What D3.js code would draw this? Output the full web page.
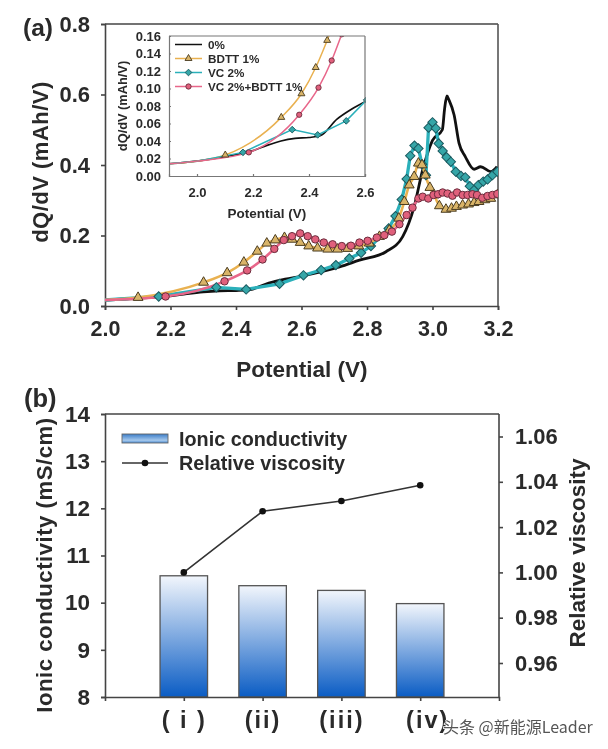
<!DOCTYPE html>
<html><head><meta charset="utf-8">
<script src="https://cdnjs.cloudflare.com/ajax/libs/d3/7.8.5/d3.min.js"></script>
<style>
html,body{margin:0;padding:0;background:#fff}
svg{display:block;filter:blur(0.45px)}
text{font-family:"Liberation Sans",Arial,sans-serif;font-weight:bold;fill:#2a2a2a}
</style></head><body>
<svg id="c" width="608" height="749"></svg>
<script>
// ---- panel (a) data
const leadV=[1.9,2.0];
const blackV=[1.9,2.0,2.1,2.2,2.25,2.3,2.35,2.4,2.44,2.5,2.55,2.6,2.716,2.777,2.858,2.909,2.944,2.97,3.0,3.03,3.037,3.044,3.05,3.066,3.081,3.1,3.127,3.147,3.178,3.197];
const blackY=[0.014,0.017,0.022,0.029,0.035,0.040,0.043,0.044,0.046,0.065,0.076,0.085,0.111,0.13,0.154,0.197,0.282,0.386,0.47,0.50,0.56,0.596,0.585,0.542,0.462,0.424,0.388,0.395,0.381,0.395];
const bdttLead=[0.014,0.017];
const bdttV=[2.101,2.301,2.373,2.424,2.465,2.494,2.520,2.548,2.571,2.596,2.622,2.649,2.680,2.710,2.741,2.775,2.807,2.838,2.868,2.897,2.914,2.929,2.944,2.957,2.968,2.978,2.992,3.005,3.021,3.041,3.058,3.073,3.092,3.110,3.127,3.142,3.160,3.178,3.198];
const bdttY=[0.024,0.067,0.094,0.124,0.155,0.178,0.187,0.194,0.189,0.180,0.170,0.164,0.161,0.161,0.163,0.170,0.178,0.197,0.215,0.249,0.296,0.343,0.367,0.405,0.400,0.371,0.336,0.315,0.284,0.274,0.277,0.282,0.286,0.289,0.293,0.296,0.301,0.305,0.315];
const vcLead=[0.014,0.017];
const vcV=[2.164,2.340,2.431,2.533,2.606,2.660,2.705,2.746,2.782,2.812,2.866,2.887,2.906,2.921,2.932,2.945,2.957,2.968,2.980,2.988,3.000,3.010,3.019,3.031,3.043,3.056,3.071,3.087,3.100,3.114,3.127,3.140,3.155,3.168,3.183,3.198];
const vcY=[0.027,0.053,0.047,0.063,0.087,0.102,0.116,0.135,0.151,0.170,0.220,0.255,0.302,0.360,0.426,0.455,0.447,0.402,0.371,0.506,0.521,0.504,0.461,0.440,0.422,0.409,0.381,0.369,0.365,0.340,0.329,0.343,0.353,0.359,0.371,0.381];
const comboLead=[0.014,0.017];
const comboV=[2.185,2.365,2.434,2.481,2.517,2.546,2.571,2.596,2.619,2.642,2.668,2.695,2.723,2.751,2.777,2.802,2.830,2.853,2.876,2.899,2.921,2.939,2.957,2.970,2.987,3.003,3.017,3.031,3.046,3.061,3.075,3.092,3.107,3.122,3.136,3.152,3.168,3.183,3.198];
const comboY=[0.027,0.070,0.101,0.132,0.162,0.187,0.198,0.206,0.198,0.189,0.180,0.175,0.170,0.171,0.180,0.185,0.194,0.201,0.211,0.232,0.258,0.279,0.305,0.310,0.305,0.315,0.317,0.322,0.319,0.313,0.322,0.315,0.315,0.317,0.315,0.307,0.312,0.315,0.318];
const legendA=["0%","BDTT 1%","VC 2%","VC 2%+BDTT 1%"];
const mainXTicks=[2.0,2.2,2.4,2.6,2.8,3.0,3.2];
const mainYTicks=[0,0.2,0.4,0.6,0.8];
const insetXTicks=[2.0,2.2,2.4,2.6];
const insetYTicks=[0,0.02,0.04,0.06,0.08,0.10,0.12,0.14,0.16];
// ---- panel (b) data
const cats=["( i )","(ii)","(iii)","(iv)"];
const conductivity=[10.57,10.36,10.26,9.98];
const viscosity=[1.000,1.027,1.0315,1.0385];
const leftTicks=[8,9,10,11,12,13,14];
const rightTicks=[0.96,0.98,1.00,1.02,1.04,1.06];

const svg=d3.select("#c");
const defs=svg.append("defs");
const grad=defs.append("linearGradient").attr("id","barG").attr("x1",0).attr("y1",0).attr("x2",0).attr("y2",1);
grad.append("stop").attr("offset","0").attr("stop-color","#f2f6fc");
grad.append("stop").attr("offset","1").attr("stop-color","#0a5cc4");
const lg=defs.append("linearGradient").attr("id","legG").attr("x1",0).attr("y1",0).attr("x2",0).attr("y2",1);
lg.append("stop").attr("offset","0").attr("stop-color","#3a7cc8");
lg.append("stop").attr("offset","0.7").attr("stop-color","#a5c8ec");
lg.append("stop").attr("offset","1").attr("stop-color","#4a8ad0");
function clip(id,x,y,w,h){defs.append("clipPath").attr("id",id).append("rect").attr("x",x).attr("y",y).attr("width",w).attr("height",h);}

const series=[
 {v:blackV,y:blackY,lead:null,line:"#111",fill:null,stroke:null,sym:null,curve:d3.curveMonotoneX},
 {v:bdttV,y:bdttY,lead:bdttLead,line:"#e9b150",fill:"#d9b468",stroke:"#4a3c20",sym:d3.symbolTriangle,curve:d3.curveMonotoneX},
 {v:vcV,y:vcY,lead:vcLead,line:"#2bb0ba",fill:"#35a6a8",stroke:"#1a5a60",sym:d3.symbolSquare,curve:d3.curveLinear},
 {v:comboV,y:comboY,lead:comboLead,line:"#e8668a",fill:"#e0607c",stroke:"#6a2c3c",sym:d3.symbolCircle,curve:d3.curveMonotoneX}
];
function pts(s){
  const a=s.v.map((v,i)=>[v,s.y[i]]);
  return s.lead?leadV.map((v,i)=>[v,s.lead[i]]).concat(a):a;
}
function symPath(s,a){
  return d3.symbol().type(s.sym).size(s.sym===d3.symbolTriangle?a*0.95:a)();
}
function drawSeries(g,x,y,lw,symA,mlw,order,tealExtra){
  const gen=d3.line().x(d=>x(d[0])).y(d=>y(d[1]));
  order.forEach(k=>{
    const s=series[k];
    g.append("path").attr("d",gen.curve(s.curve)(pts(s))).attr("fill","none").attr("stroke",s.line)
      .attr("stroke-width",k===0?lw+0.2:k===2?lw+tealExtra:lw);
  });
  order.forEach(k=>{
    const s=series[k];
    if(!s.sym)return;
    const rot=s.sym===d3.symbolSquare?" rotate(45)":"";
    g.selectAll(null).data(s.v.map((v,i)=>[v,s.y[i]])).join("path").attr("d",symPath(s,symA))
      .attr("transform",d=>`translate(${x(d[0])},${y(d[1])})${rot}`)
      .attr("fill",s.fill).attr("stroke",s.stroke).attr("stroke-width",mlw);
  });
}
function styleAxis(g,fs,w,col){
  g.selectAll("path.domain,line").attr("stroke",col||"#444").attr("stroke-width",w||1.6);
  g.selectAll("text").attr("font-size",fs).attr("fill","#2a2a2a");
}
// ---------- Panel a
const ax=d3.scaleLinear().domain([2.0,3.2]).range([105,498]);
const ay=d3.scaleLinear().domain([0,0.8]).range([306,24]);
clip("clipA",105,24,393,282);
svg.append("g").attr("transform","translate(0,306)")
  .call(d3.axisBottom(ax).tickValues(mainXTicks).tickFormat(d3.format(".1f")).tickSize(4).tickPadding(7))
  .call(g=>styleAxis(g,21.5)).call(g=>g.selectAll("text").attr("dy","0.9em"));
svg.append("g").attr("transform","translate(105,0)")
  .call(d3.axisLeft(ay).tickValues(mainYTicks).tickFormat(d3.format(".1f")).tickSize(4).tickPadding(11))
  .call(g=>styleAxis(g,22));
svg.append("line").attr("x1",105).attr("x2",498).attr("y1",24).attr("y2",24).attr("stroke","#444").attr("stroke-width",1.6);
svg.append("line").attr("x1",498).attr("x2",498).attr("y1",24).attr("y2",306).attr("stroke","#555").attr("stroke-width",1.6);
drawSeries(svg.append("g").attr("clip-path","url(#clipA)"),ax,ay,2.6,44,1,[0,2,1,3],0.7);

// inset
const ix=d3.scaleLinear().domain([1.9,2.6]).range([169,365]);
const iy=d3.scaleLinear().domain([0,0.16]).range([176,36]);
clip("clipI",169,36,197,140);
svg.append("rect").attr("x",169).attr("y",36).attr("width",196).attr("height",140).attr("fill","#fff");
drawSeries(svg.append("g").attr("clip-path","url(#clipI)"),ix,iy,1.5,22,0.9,[0,1,2,3],0);
svg.append("g").attr("transform","translate(0,176)")
  .call(d3.axisBottom(ix).tickValues(insetXTicks).tickFormat(d3.format(".1f")).tickSize(-2).tickPadding(12))
  .call(g=>styleAxis(g,13,1.2,"#777"));
svg.append("g").attr("transform","translate(169,0)")
  .call(d3.axisLeft(iy).tickValues(insetYTicks).tickFormat(d3.format(".2f")).tickSize(-2).tickPadding(8))
  .call(g=>styleAxis(g,13,1.2,"#777"));
svg.append("line").attr("x1",169).attr("x2",365).attr("y1",36).attr("y2",36).attr("stroke","#777").attr("stroke-width",1.2);
svg.append("line").attr("x1",365).attr("x2",365).attr("y1",36).attr("y2",176).attr("stroke","#777").attr("stroke-width",1.2);
// inset legend
legendA.forEach((t,i)=>{
  const y=44.5+i*14, s=series[i];
  svg.append("line").attr("x1",175).attr("x2",202).attr("y1",y).attr("y2",y).attr("stroke",s.line).attr("stroke-width",1.5);
  if(s.sym) svg.append("path").attr("d",symPath(s,22))
     .attr("transform",`translate(188.5,${y})`+(s.sym===d3.symbolSquare?" rotate(45)":"")).attr("fill",s.fill).attr("stroke",s.stroke).attr("stroke-width",.9);
  svg.append("text").attr("x",208).attr("y",y+4).attr("font-size",11.7).text(t);
});
svg.append("text").attr("x",267).attr("y",218).attr("text-anchor","middle").attr("font-size",13.5).text("Potential (V)");
svg.append("text").attr("transform","translate(127,106) rotate(-90)").attr("text-anchor","middle").attr("font-size",12.8).text("dQ/dV (mAh/V)");
// titles
svg.append("text").attr("x",23).attr("y",36).attr("font-size",24.5).text("(a)");
svg.append("text").attr("x",302).attr("y",377).attr("text-anchor","middle").attr("font-size",22.5).text("Potential (V)");
svg.append("text").attr("transform","translate(48,162) rotate(-90)").attr("text-anchor","middle").attr("font-size",22).style("letter-spacing","0.5px").text("dQ/dV (mAh/V)");

// ---------- Panel b
const bx=d3.scalePoint().domain(["",...cats,"_"]).range([105,499]);
const by=d3.scaleLinear().domain([8,14]).range([697,414]);
const ry=d3.scaleLinear().domain([0.96,1.06]).range([663,436.5]);
const barW=47.5;
svg.append("g").selectAll("rect").data(cats).join("rect")
  .attr("x",d=>bx(d)-barW/2).attr("width",barW)
  .attr("y",(d,i)=>by(conductivity[i])).attr("height",(d,i)=>697-by(conductivity[i]))
  .attr("fill","url(#barG)").attr("stroke","#555").attr("stroke-width",1.3);
svg.append("g").attr("transform","translate(105,0)")
  .call(d3.axisLeft(by).tickValues(leftTicks).tickFormat(d3.format("d")).tickSize(4).tickPadding(11))
  .call(g=>styleAxis(g,22.5));
svg.append("g").attr("transform","translate(499,0)")
  .call(d3.axisRight(ry).tickValues(rightTicks).tickFormat(d3.format(".2f")).tickSize(4).tickPadding(12))
  .call(g=>styleAxis(g,22)).select("path.domain").attr("d","M0,414V697");
svg.append("g").attr("transform","translate(0,697)")
  .call(d3.axisBottom(bx).tickValues(cats).tickSize(4).tickPadding(6))
  .call(g=>styleAxis(g,23.5)).call(g=>g.selectAll("text").attr("dy","0.9em").style("letter-spacing","2px")
    .attr("dx",(d,i)=>i===3?7:0));
svg.append("line").attr("x1",105).attr("x2",499).attr("y1",414).attr("y2",414).attr("stroke","#444").attr("stroke-width",1.6);
const vline=d3.line().x((d,i)=>bx(cats[i])).y(d=>ry(d));
svg.append("path").attr("d",vline(viscosity)).attr("fill","none").attr("stroke","#333").attr("stroke-width",1.6);
svg.append("g").selectAll("circle").data(viscosity).join("circle")
  .attr("cx",(d,i)=>bx(cats[i])).attr("cy",d=>ry(d)).attr("r",3.3).attr("fill","#111");
// legend b
svg.append("rect").attr("x",122).attr("y",434).attr("width",46).attr("height",9).attr("fill","url(#legG)").attr("stroke","#666").attr("stroke-width",.9);
svg.append("text").attr("x",179).attr("y",446).attr("font-size",19.8).text("Ionic conductivity");
svg.append("line").attr("x1",122).attr("x2",168).attr("y1",463).attr("y2",463).attr("stroke","#333").attr("stroke-width",1.6);
svg.append("circle").attr("cx",145).attr("cy",463).attr("r",3.3).attr("fill","#111");
svg.append("text").attr("x",179).attr("y",470).attr("font-size",19.8).text("Relative viscosity");
svg.append("text").attr("x",24).attr("y",407).attr("font-size",25.5).text("(b)");
svg.append("text").attr("transform","translate(52,565) rotate(-90)").attr("text-anchor","middle").attr("font-size",22.2).style("letter-spacing","0.5px").text("Ionic conductivity (mS/cm)");
svg.append("text").attr("transform","translate(585,553) rotate(-90)").attr("text-anchor","middle").attr("font-size",22.5).text("Relative viscosity");
// watermark
svg.append("text").attr("x",443).attr("y",733).attr("font-size",16)
  .style("font-family","'Noto Sans CJK SC',sans-serif").style("font-weight","normal").style("fill","#555")
  .style("paint-order","stroke").style("stroke","#fff").style("stroke-width","1.5px").text("头条 @新能源Leader");
</script>
</body></html>
